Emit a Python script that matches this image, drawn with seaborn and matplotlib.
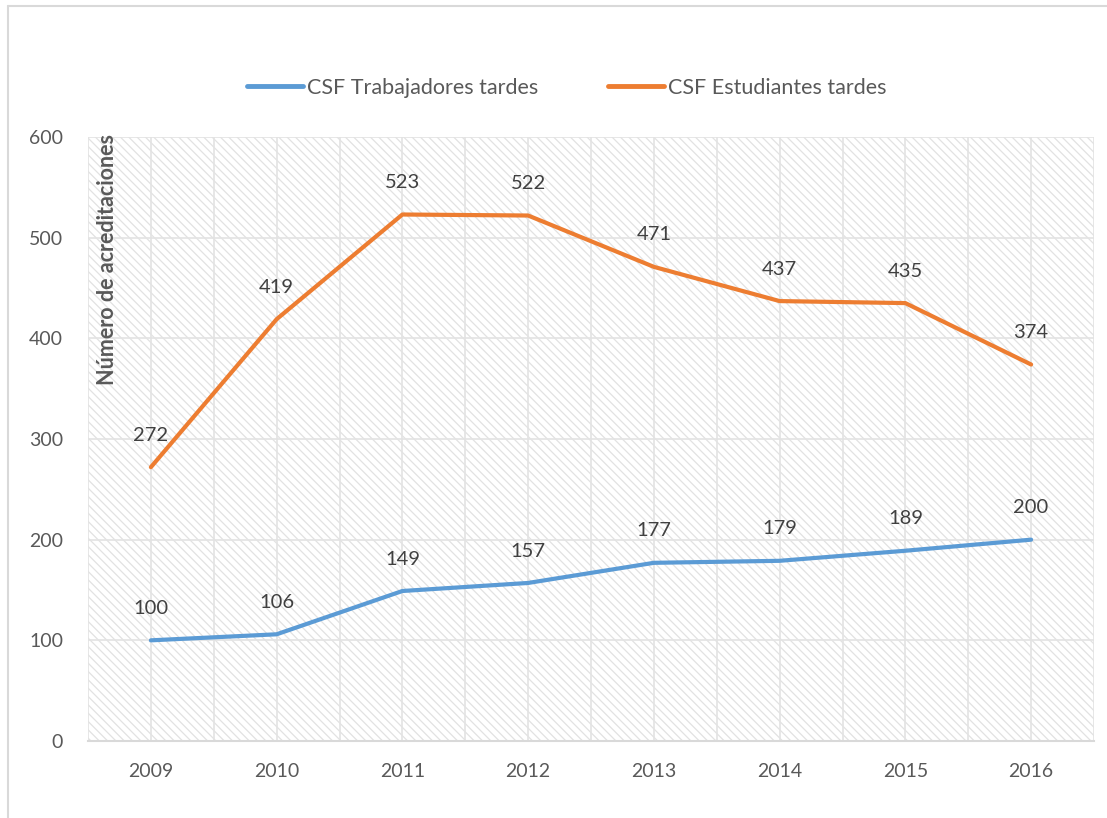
import pandas as pd
import matplotlib
matplotlib.use("Agg")
import matplotlib.pyplot as plt
import seaborn as sns
from matplotlib.lines import Line2D
from matplotlib.ticker import MultipleLocator

# data
years = ["2009", "2010", "2011", "2012", "2013", "2014", "2015", "2016"]
trabajadores = [100, 106, 149, 157, 177, 179, 189, 200]
estudiantes = [272, 419, 523, 522, 471, 437, 435, 374]
series_names = ["CSF Trabajadores tardes", "CSF Estudiantes tardes"]
colors = ["#5B9BD5", "#ED7D31"]

df = pd.DataFrame({
    "year": years * 2,
    "pos": list(range(len(years))) * 2,
    "value": trabajadores + estudiantes,
    "serie": [series_names[0]] * len(years) + [series_names[1]] * len(years),
})

sns.set_style("white")
plt.rcParams["font.family"] = ["Lato", "DejaVu Sans"]
plt.rcParams["hatch.color"] = "#e2e2e2"
plt.rcParams["hatch.linewidth"] = 0.9

fig = plt.figure(figsize=(11.07, 8.18), dpi=100)
ax = fig.add_axes([88 / 1107, 1 - 741 / 818, (1094 - 88) / 1107, (741 - 137) / 818])

# hatched background
ax.patch.set_facecolor("white")
ax.patch.set_hatch("\\\\\\\\")
ax.patch.set_edgecolor("#e2e2e2")
ax.patch.set_linewidth(0)

sns.lineplot(data=df, x="pos", y="value", hue="serie", palette=colors,
             linewidth=3, ax=ax, legend=False, zorder=3)

ax.set_xlim(-0.5, len(years) - 0.5)
ax.set_ylim(0, 600)
ax.set_xticks(range(len(years)))
ax.set_xticklabels(years)
ax.xaxis.set_minor_locator(MultipleLocator(0.5))
ax.yaxis.set_major_locator(MultipleLocator(100))
ax.grid(True, which="both", axis="x", color="#e3e3e3", linewidth=1.2, zorder=1)
ax.grid(True, which="major", axis="y", color="#e3e3e3", linewidth=1.2, zorder=1)
ax.set_axisbelow(True)

for s in ["top", "right", "left"]:
    ax.spines[s].set_visible(False)
ax.spines["bottom"].set_color("#d9d9d9")
ax.spines["bottom"].set_linewidth(1.5)
ax.tick_params(axis="both", which="both", length=0, labelsize=14, colors="#595959")
ax.tick_params(axis="x", pad=16)
ax.tick_params(axis="y", pad=18)
ax.set_xlabel("")
ax.set_ylabel("")

# data labels
for vals in [trabajadores, estudiantes]:
    for i, v in enumerate(vals):
        ax.annotate(str(v), (i, v), xytext=(0, 23), textcoords="offset points",
                    ha="center", va="center", fontsize=14.5, color="#404040", zorder=4)

# y label inside the plot
ax.text(0.019, 1.005, "Número de acreditaciones", transform=ax.transAxes,
        rotation=90, ha="center", va="top", fontsize=15.5, fontweight="bold",
        color="#595959")

handles = [Line2D([], [], color=c, linewidth=3.5) for c in colors]
fig.legend(handles, series_names, loc="center", bbox_to_anchor=(0.512, 1 - 88 / 818),
           ncol=2, frameon=False, fontsize=15.5, labelcolor="#595959",
           handlelength=2.6, handletextpad=0.2, columnspacing=3.2)

# outer frame (top and left edges)
fig.add_artist(Line2D([8 / 1107, 8 / 1107], [0, 1 - 6 / 818], transform=fig.transFigure,
                      color="#d9d9d9", linewidth=1.5))
fig.add_artist(Line2D([8 / 1107, 1], [1 - 6 / 818, 1 - 6 / 818], transform=fig.transFigure,
                      color="#d9d9d9", linewidth=1.5))

fig.savefig("out.png", dpi=100, facecolor="white")
